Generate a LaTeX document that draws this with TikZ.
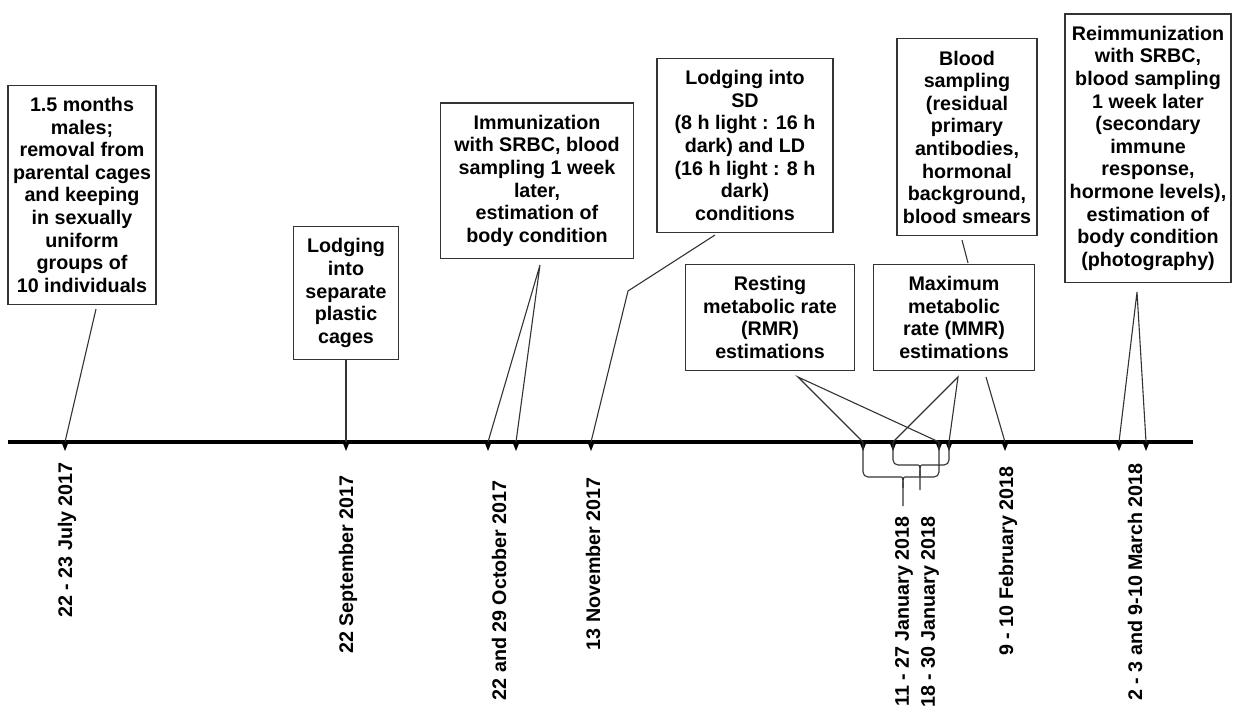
\documentclass[tikz,border=0pt]{standalone}
\usepackage{fontspec}
\setmainfont{Liberation Sans}
\usetikzlibrary{positioning,calc}

\begin{document}
\begin{tikzpicture}[x=1pt,y=-1pt]
    \tikzstyle{every node}=[font=\fontsize{19.7}{22.6}\selectfont\bfseries]
    \tikzstyle{event}=[draw=black!80,line width=1.2,fill=white,align=center,inner xsep=4,inner ysep=12,anchor=south]
    \tikzstyle{date}=[rotate=90,anchor=east,inner sep=0]
    \tikzstyle{link}=[draw=black!80,line width=1.1]
    \tikzstyle{brace}=[draw=black!80,line width=1.1,rounded corners=5]
    \useasboundingbox (0,0) rectangle (1236,714);
    {
        % the time axis and the dates on it
        \coordinate (start) at (8,442);
        \coordinate (stop) at (1193,442);
        \coordinate (jul) at (65,442);
        \coordinate (sep) at (346,442);
        \coordinate (octA) at (488,442);
        \coordinate (octB) at (516,442);
        \coordinate (nov) at (591,442);
        \coordinate (janA) at (863,442);
        \coordinate (janB) at (893,442);
        \coordinate (janC) at (939,442);
        \coordinate (janD) at (949,442);
        \coordinate (feb) at (1005,442);
        \coordinate (marA) at (1119,442);
        \coordinate (marB) at (1146,442);

        \draw[line width=4] (start) -- (stop);
        \foreach \t in {jul,sep,octA,octB,nov,janA,janB,janC,janD,feb,marA,marB}
            \fill (\t) ++(-4,-1) -- ++(8,0) -- ++(-4,10) -- cycle;

        % events
        \node[event,minimum width=148] (youth) at (82,305) {1.5 months\\males;\\removal from\\parental cages\\and keeping\\in sexually\\uniform\\groups of\\10 individuals};
        \node[event,minimum width=105] (cages) at (346,360) {Lodging\\into\\separate\\plastic\\cages};
        \node[event,minimum width=193] (immun) at (537,259) {Immunization\\with SRBC, blood\\sampling 1 week\\later,\\estimation of\\body condition};
        \node[event,minimum width=176] (light) at (745,233) {Lodging into\\SD\\(8 h light : 16 h\\dark) and LD\\(16 h light : 8 h\\dark)\\conditions};
        \node[event,minimum width=169] (rmr) at (770,371) {Resting\\metabolic rate\\(RMR)\\estimations};
        \node[event,minimum width=161] (mmr) at (954,371) {Maximum\\metabolic\\rate (MMR)\\estimations};
        \node[event,minimum width=140] (blood) at (967,236) {Blood\\sampling\\(residual\\primary\\antibodies,\\hormonal\\background,\\blood smears};
        \node[event,minimum width=166] (reimm) at (1148,283) {Reimmunization\\with SRBC,\\blood sampling\\1 week later\\(secondary\\immune\\response,\\hormone levels),\\estimation of\\body condition\\(photography)};

        % feet of the connectors
        \coordinate (youth-foot) at (96,309);
        \coordinate (immun-foot) at (540,265);
        \coordinate (light-foot) at (715,235);
        \coordinate (light-bend) at (628,291);
        \coordinate (rmr-foot) at (798,377);
        \coordinate (mmr-foot) at (958,377);
        \coordinate (blood-foot) at (962,240);
        \coordinate (blood-mid) at (968,263);
        \coordinate (feb-foot) at (986,377);
        \coordinate (reimm-foot) at (1137,292);

        \draw[link] (youth-foot) -- (jul);
        \draw[link] (cages) -- (sep);
        \draw[link] (octA) -- (immun-foot) -- (octB);
        \draw[link] (light-foot) -- (light-bend) -- (nov);
        \draw[link] (janA) -- (rmr-foot) -- (janC);
        \draw[link] (janB) -- (mmr-foot) -- (janD);
        \draw[link] (blood-foot) -- (blood-mid);
        \draw[link] (feb-foot) -- (feb);
        \draw[link] (marA) -- (reimm-foot) -- (marB);

        % braces under the January dates
        \coordinate (janAC) at (903,506);
        \coordinate (janBD) at (920,490);
        \draw[brace] (janA) -- (863,477) -- (896,477) [sharp corners] .. controls (903,477) and (903,479) .. (903,488) -- (janAC);
        \draw[brace] (janC) -- (939,477) -- (910,477) [sharp corners] .. controls (903,477) and (903,479) .. (903,488);
        \draw[brace] (janB) -- (893,465) -- (913,465) [sharp corners] .. controls (920,465) and (920,467) .. (920,476) -- (janBD);
        \draw[brace] (janD) -- (949,465) -- (927,465) [sharp corners] .. controls (920,465) and (920,467) .. (920,476);

        % dates
        \node[date] (d-jul) at (67,462) {22 - 23 July 2017};
        \node[date] (d-sep) at (348,475) {22 September 2017};
        \node[date] (d-oct) at (499,480) {22 and 29 October 2017};
        \node[date] (d-nov) at (593,477) {13 November 2017};
        \node[date] (d-janA) at (904,516) {11 - 27 January 2018};
        \node[date] (d-janB) at (930,516) {18 - 30 January 2018};
        \node[date] (d-feb) at (1008,466) {9 - 10 February 2018};
        \node[date] (d-mar) at (1135,463) {2 - 3 and 9-10 March 2018};
    }
\end{tikzpicture}
\end{document}
